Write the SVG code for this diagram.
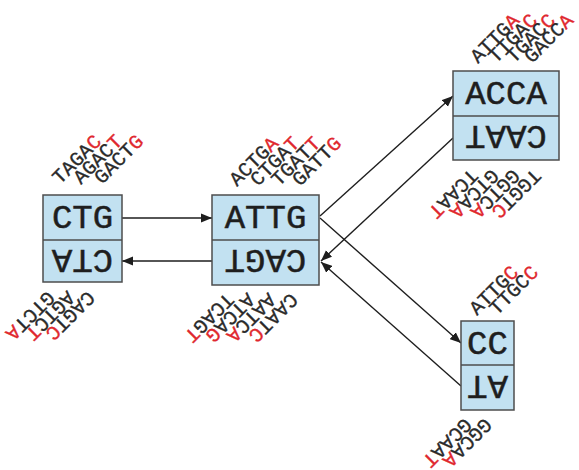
<svg xmlns="http://www.w3.org/2000/svg" width="579" height="470" viewBox="0 0 579 470">
<style>
.box{fill:#c2e1f1;stroke:#4d4d4d;stroke-width:1.5}
.seq{font-family:"Liberation Mono","DejaVu Sans Mono",monospace;font-size:34px;fill:#1e1e1e;text-anchor:middle;stroke:#1e1e1e;stroke-width:0.5}
.lbl{font-family:"Liberation Mono","DejaVu Sans Mono",monospace;font-size:20px;fill:#2a2a2a;stroke:#2a2a2a;stroke-width:0.35}
.r{fill:#e0282e;stroke:#e0282e}
.c{stroke:#1e1e1e;stroke-width:1.4;fill:none;marker-end:url(#ah)}
</style>
<defs>
<marker id="ah" markerUnits="userSpaceOnUse" markerWidth="12" markerHeight="10" refX="11" refY="5" orient="auto">
<path d="M0,0.5 L11,5 L0,9.5 z" fill="#1e1e1e"/>
</marker>
</defs>
<rect width="579" height="470" fill="#ffffff"/>

<g id="connectors">
<path class="c" d="M122,218 L212,218"/>
<path class="c" d="M212,261 L122,261"/>
<path class="c" d="M320,216 L453,96"/>
<path class="c" d="M453,138 L321,261"/>
<path class="c" d="M320,218 L461,343"/>
<path class="c" d="M461,386 L321,262"/>
</g>

<g id="node-CTG">
<rect class="box" x="43" y="195" width="79" height="87"/>
<line class="box" x1="43" y1="240" x2="122" y2="240"/>
<text class="seq" x="82.5" y="228">CTG</text>
<text class="seq" transform="translate(82.5,250) rotate(180)">CTA</text>
<text class="lbl" transform="translate(60,185) rotate(-45)">TAGA<tspan class="r">C</tspan></text>
<text class="lbl" transform="translate(81,185) rotate(-45)">AGAC<tspan class="r">T</tspan></text>
<text class="lbl" transform="translate(102,185) rotate(-45)">GACT<tspan class="r">G</tspan></text>
<text class="lbl" transform="translate(87,290) rotate(135)">CAGT<tspan class="r">C</tspan></text>
<text class="lbl" transform="translate(67,290) rotate(135)">AGTC<tspan class="r">T</tspan></text>
<text class="lbl" transform="translate(47,290) rotate(135)">GTCT<tspan class="r">A</tspan></text>
</g>

<g id="node-ATTG">
<rect class="box" x="212" y="195" width="107" height="90"/>
<line class="box" x1="212" y1="240" x2="319" y2="240"/>
<text class="seq" x="265.5" y="228">ATTG</text>
<text class="seq" transform="translate(265.5,250) rotate(180)">CAGT</text>
<text class="lbl" transform="translate(237,187) rotate(-45)">ACTG<tspan class="r">A</tspan></text>
<text class="lbl" transform="translate(258,187) rotate(-45)">CTGA<tspan class="r">T</tspan></text>
<text class="lbl" transform="translate(279,187) rotate(-45)">TGAT<tspan class="r">T</tspan></text>
<text class="lbl" transform="translate(300,187) rotate(-45)">GATT<tspan class="r">G</tspan></text>
<text class="lbl" transform="translate(290,292) rotate(135)">CAAT<tspan class="r">C</tspan></text>
<text class="lbl" transform="translate(268,292) rotate(135)">AATC<tspan class="r">A</tspan></text>
<text class="lbl" transform="translate(247,292) rotate(135)">ATCA<tspan class="r">G</tspan></text>
<text class="lbl" transform="translate(226,292) rotate(135)">TCAG<tspan class="r">T</tspan></text>
</g>

<g id="node-ACCA">
<rect class="box" x="453" y="71" width="106" height="89"/>
<line class="box" x1="453" y1="116" x2="559" y2="116"/>
<text class="seq" x="506" y="104">ACCA</text>
<text class="seq" transform="translate(506,126) rotate(180)">CAAT</text>
<text class="lbl" transform="translate(478,64) rotate(-45)">ATTG<tspan class="r">A</tspan></text>
<text class="lbl" transform="translate(496,64) rotate(-45)">TTGA<tspan class="r">C</tspan></text>
<text class="lbl" transform="translate(514,64) rotate(-45)">TGAC<tspan class="r">C</tspan></text>
<text class="lbl" transform="translate(532,64) rotate(-45)">GACC<tspan class="r">A</tspan></text>
<text class="lbl" transform="translate(533,168) rotate(135)">TGGT<tspan class="r">C</tspan></text>
<text class="lbl" transform="translate(512,168) rotate(135)">GGTC<tspan class="r">A</tspan></text>
<text class="lbl" transform="translate(491,168) rotate(135)">GTCA<tspan class="r">A</tspan></text>
<text class="lbl" transform="translate(470,168) rotate(135)">TCAA<tspan class="r">T</tspan></text>
</g>

<g id="node-CC">
<rect class="box" x="461" y="321" width="53" height="89"/>
<line class="box" x1="461" y1="365" x2="514" y2="365"/>
<text class="seq" x="487.5" y="354">CC</text>
<text class="seq" transform="translate(487.5,376) rotate(180)">AT</text>
<text class="lbl" transform="translate(477,316) rotate(-45)">ATTG<tspan class="r">C</tspan></text>
<text class="lbl" transform="translate(497,316) rotate(-45)">TTGC<tspan class="r">C</tspan></text>
<text class="lbl" transform="translate(484,417) rotate(135)">GGCA<tspan class="r">A</tspan></text>
<text class="lbl" transform="translate(464,417) rotate(135)">GCAA<tspan class="r">T</tspan></text>
</g>
</svg>
